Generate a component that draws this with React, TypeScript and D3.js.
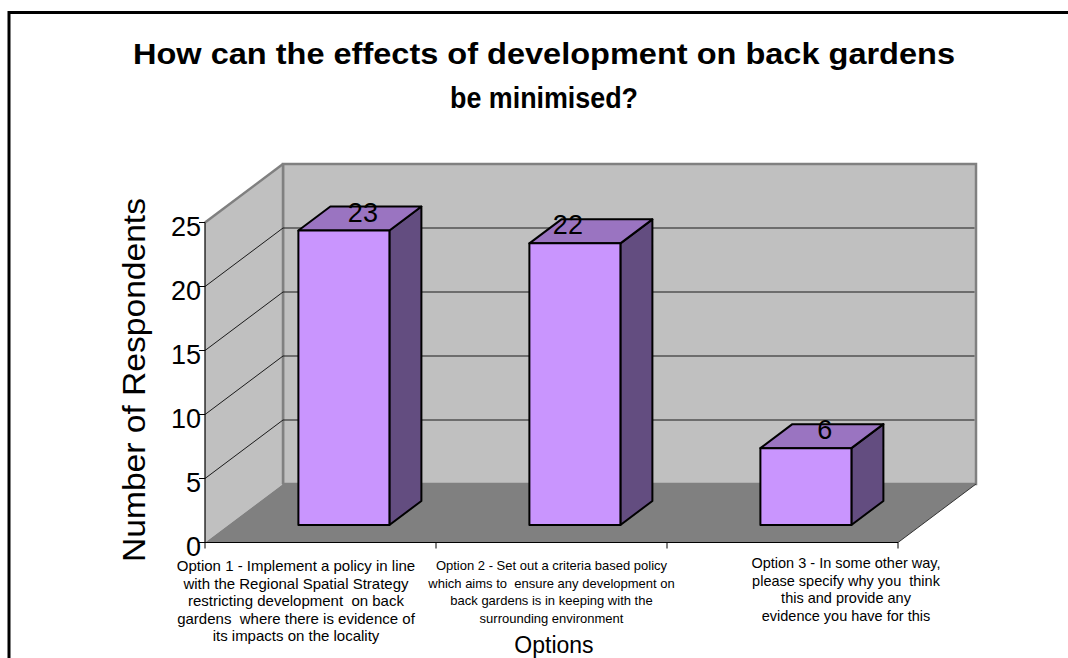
import React from "react";
import * as d3 from "d3";

// Survey options (axis category labels, one entry per wrapped line)
const categoryIds = ["opt1", "opt2", "opt3"];
const categoryLabels: string[][] = [
  [
    "Option 1 - Implement a policy in line",
    "with the Regional Spatial Strategy",
    "restricting development  on back",
    "gardens  where there is evidence of",
    "its impacts on the locality",
  ],
  [
    "Option 2 - Set out a criteria based policy",
    "which aims to  ensure any development on",
    "back gardens is in keeping with the",
    "surrounding environment",
  ],
  [
    "Option 3 - In some other way,",
    "please specify why you  think",
    "this and provide any",
    "evidence you have for this",
  ],
];
const respondents = [23, 22, 6];
const yTicks = [0, 5, 10, 15, 20, 25];
const titleLines = [
  "How can the effects of development on back gardens",
  "be minimised?",
];

// Layout
const W = 1068;
const H = 658;
const FRONT_LEFT = 205;
const FRONT_RIGHT = 898;
const FLOOR_Y = 542.5;
const TOP_Y = 222.5;
const DEPTH = { x: 78, y: -58.5 };
const BAR_FRONT = 0.3; // depth fraction of bar front face
const BAR_DEPTH = 0.41; // depth fraction occupied by a bar
const BAR_RATIO = 0.394; // bar width / category width
const LABEL_SHIFT = [-24.5, 0, 63.5];
const LABEL_FONT = [15, 13, 14.5];
const LABEL_TOP = [571, 570, 568];
const VALUE_LABEL_SHIFT = [0, -26, 0];
const FONT = "Arial, 'Liberation Sans', Helvetica, sans-serif";

const COLORS = {
  wall: "#c0c0c0",
  wallEdge: "#808080",
  floor: "#808080",
  grid: "#1a1a1a",
  front: "#c995fe",
  top: "#9a74c1",
  side: "#634d80",
};

const pts = (p: [number, number][]) => p.map((d) => d.join(",")).join(" ");

export default function App() {
  const y = d3.scaleLinear().domain([0, 25]).range([FLOOR_Y, TOP_Y]);
  const x = d3
    .scaleBand<string>()
    .domain(categoryIds)
    .range([FRONT_LEFT, FRONT_RIGHT])
    .paddingInner(0)
    .paddingOuter(0);

  const dx = DEPTH.x;
  const dy = DEPTH.y;
  const backLeft = FRONT_LEFT + dx;
  const backRight = FRONT_RIGHT + dx;
  const backTop = TOP_Y + dy;
  const backFloor = FLOOR_Y + dy;

  const bw = x.bandwidth() * BAR_RATIO;
  const fx = BAR_FRONT * dx;
  const fy = BAR_FRONT * dy;
  const bdx = BAR_DEPTH * dx;
  const bdy = BAR_DEPTH * dy;

  return (
    <svg
      width={W}
      height={H}
      style={{ position: "absolute", left: 0, top: 0, background: "#fff" }}
      fontFamily={FONT}
    >
      {/* outer frame */}
      <path d={`M9,${H + 5} V12.5 H${W + 5}`} fill="none" stroke="#000" strokeWidth={3} />

      {/* title */}
      {titleLines.map((t, i) => (
        <text
          key={i}
          x={544}
          y={i === 0 ? 63.5 : 107.5}
          textAnchor="middle"
          fontWeight="bold"
          fontSize={30}
          textLength={i === 0 ? 822 : 188}
          lengthAdjust="spacingAndGlyphs"
        >
          {t}
        </text>
      ))}

      {/* back wall */}
      <rect
        x={backLeft}
        y={backTop}
        width={backRight - backLeft}
        height={backFloor - backTop}
        fill={COLORS.wall}
        stroke={COLORS.wallEdge}
        strokeWidth={2.5}
      />
      {/* side wall */}
      <polygon
        points={pts([
          [FRONT_LEFT, TOP_Y],
          [backLeft, backTop],
          [backLeft, backFloor],
          [FRONT_LEFT, FLOOR_Y],
        ])}
        fill={COLORS.wall}
      />
      <line x1={FRONT_LEFT} y1={TOP_Y} x2={backLeft} y2={backTop} stroke={COLORS.wallEdge} strokeWidth={2.5} />
      <line x1={backLeft} y1={backTop} x2={backLeft} y2={backFloor} stroke={COLORS.wallEdge} strokeWidth={2.5} />
      {/* floor */}
      <polygon
        points={pts([
          [FRONT_LEFT, FLOOR_Y],
          [backLeft, backFloor],
          [backRight, backFloor],
          [FRONT_RIGHT, FLOOR_Y],
        ])}
        fill={COLORS.floor}
      />
      <line x1={FRONT_RIGHT} y1={FLOOR_Y} x2={backRight} y2={backFloor} stroke="#333" strokeWidth={1} />

      {/* gridlines */}
      {yTicks
        .filter((t) => t > 0 && t < 25)
        .map((t) => (
          <g key={t} stroke={COLORS.grid} strokeWidth={1}>
            <line x1={FRONT_LEFT} y1={y(t)} x2={backLeft} y2={y(t) + dy} />
            <line x1={backLeft} y1={y(t) + dy} x2={backRight - 1.5} y2={y(t) + dy} />
          </g>
        ))}

      {/* value axis */}
      <line x1={FRONT_LEFT} y1={TOP_Y} x2={FRONT_LEFT} y2={FLOOR_Y} stroke="#000" strokeWidth={1.2} />
      {yTicks.map((t) => (
        <g key={t}>
          <line x1={FRONT_LEFT - 6} y1={y(t)} x2={FRONT_LEFT} y2={y(t)} stroke="#000" strokeWidth={1} />
          <text x={FRONT_LEFT - 4} y={y(t) + 13.5} textAnchor="end" fontSize={27}>
            {t}
          </text>
        </g>
      ))}

      {/* category axis */}
      <line x1={FRONT_LEFT} y1={FLOOR_Y} x2={FRONT_RIGHT} y2={FLOOR_Y} stroke="#000" strokeWidth={1.2} />
      {[...categoryIds.map((c) => x(c) as number), FRONT_RIGHT].map((px, i) => (
        <line key={i} x1={px} y1={FLOOR_Y} x2={px} y2={FLOOR_Y + 6} stroke="#000" strokeWidth={1} />
      ))}

      {/* bars */}
      {categoryIds.map((c, i) => {
        const v = respondents[i];
        const cx = (x(c) as number) + x.bandwidth() / 2 + fx;
        const xl = cx - bw / 2;
        const xr = cx + bw / 2;
        const yb = y(0) + fy;
        const yt = y(v) + fy;
        return (
          <g key={c} stroke="#000" strokeWidth={2} strokeLinejoin="round">
            <polygon
              points={pts([
                [xr, yt],
                [xr + bdx, yt + bdy],
                [xr + bdx, yb + bdy],
                [xr, yb],
              ])}
              fill={COLORS.side}
            />
            <polygon
              points={pts([
                [xl, yt],
                [xr, yt],
                [xr + bdx, yt + bdy],
                [xl + bdx, yt + bdy],
              ])}
              fill={COLORS.top}
            />
            <rect x={xl} y={yt} width={bw} height={yb - yt} fill={COLORS.front} />
            <text
              x={cx + bdx / 2 + 3 + VALUE_LABEL_SHIFT[i]}
              y={yt + bdy / 2 + 3}
              textAnchor="middle"
              fontSize={27}
              stroke="none"
              fill="#000"
            >
              {v}
            </text>
          </g>
        );
      })}

      {/* category labels */}
      {categoryLabels.map((lines, i) => {
        const cx = (x(categoryIds[i]) as number) + x.bandwidth() / 2 + LABEL_SHIFT[i];
        return (
          <text key={i} textAnchor="middle" fontSize={LABEL_FONT[i]} style={{ whiteSpace: "pre" }}>
            {lines.map((l, j) => (
              <tspan key={j} x={cx} y={LABEL_TOP[i] + j * 17.6}>
                {l}
              </tspan>
            ))}
          </text>
        );
      })}

      {/* axis titles */}
      <text x={554} y={653} textAnchor="middle" fontSize={23}>
        Options
      </text>
      <text
        transform="translate(145,380) rotate(-90)"
        textAnchor="middle"
        fontSize={31}
        textLength={364}
        lengthAdjust="spacingAndGlyphs"
      >
        Number of Respondents
      </text>
    </svg>
  );
}
